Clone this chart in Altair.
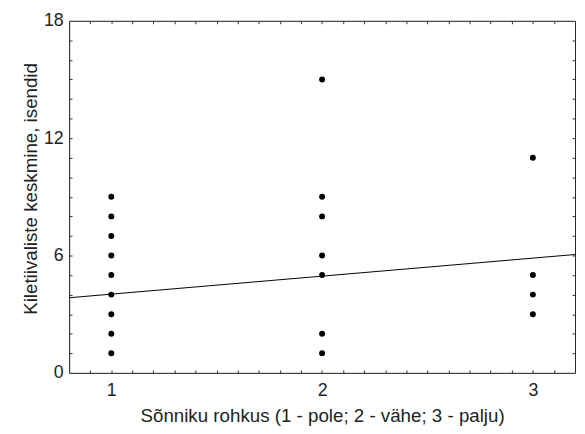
import altair as alt
import pandas as pd

# Data
manure = [1, 1, 1, 1, 1, 1, 1, 1, 1,
          2, 2, 2, 2, 2, 2, 2,
          3, 3, 3, 3]
abundance = [1, 2, 3, 4, 5, 6, 7, 8, 9,
             1, 2, 5, 6, 8, 9, 15,
             3, 4, 5, 11]

fit_x = [0.8, 3.2]
fit_y = [3.84, 6.05]

x_major = [1, 2, 3]
y_major = [0, 6, 12, 18]
x_minor = [0.9, 1.0, 1.1, 1.2, 1.3, 1.4, 1.5, 1.6, 1.7, 1.8, 1.9, 2.0,
           2.1, 2.2, 2.3, 2.4, 2.5, 2.6, 2.7, 2.8, 2.9, 3.0, 3.1]
y_minor = [1, 2, 3, 4, 5, 6, 7, 8, 9, 10, 11, 12, 13, 14, 15, 16, 17]

pts = pd.DataFrame({"x": manure, "y": abundance})
fit = pd.DataFrame({"x": fit_x, "y": fit_y})

FONT = "Liberation Sans"
TXT = "#222222"
FRAME = "#222222"
xs = alt.Scale(domain=[0.8, 3.2], nice=False, zero=False)
ys = alt.Scale(domain=[0, 18], nice=False)

# Layer with labels, titles and the bottom/left frame
points = alt.Chart(pts).mark_circle(size=36, color="black", opacity=1).encode(
    x=alt.X("x:Q", scale=xs,
            axis=alt.Axis(values=x_major, format="d", ticks=False, domain=True,
                          domainColor=FRAME, domainWidth=1, grid=False,
                          labelPadding=9, labelFontSize=18, labelFont=FONT, labelColor=TXT,
                          title="Sõnniku rohkus (1 - pole; 2 - vähe; 3 - palju)",
                          titleFont=FONT, titleFontSize=19, titleFontWeight="normal",
                          titleColor=TXT, titlePadding=7, orient="bottom")),
    y=alt.Y("y:Q", scale=ys,
            axis=alt.Axis(values=y_major, format="d", ticks=False, domain=True,
                          domainColor=FRAME, domainWidth=1, grid=False,
                          labelPadding=6, labelFontSize=18, labelFont=FONT, labelColor=TXT,
                          title="Kiletiivaliste keskmine, isendid",
                          titleFont=FONT, titleFontSize=19, titleFontWeight="normal",
                          titleColor=TXT, titlePadding=3, titleY=170, orient="left")),
)

def tick_axis(vals, orient):
    return alt.Axis(values=vals, orient=orient, labels=False, domain=False, grid=False,
                    ticks=True, tickSize=3, offset=-3, tickColor="#333333", tickWidth=1,
                    title=None)

def frame_axis(orient):
    return alt.Axis(orient=orient, labels=False, ticks=False, grid=False, domain=True,
                    domainColor=FRAME, domainWidth=1, title=None)

line = alt.Chart(fit).mark_line(color="black", strokeWidth=1).encode(
    x=alt.X("x:Q", scale=xs, axis=tick_axis(x_minor, "top")),
    y=alt.Y("y:Q", scale=ys, axis=tick_axis(y_minor, "right")),
)

ghost = alt.Chart(fit).mark_line(strokeOpacity=0).encode(
    x=alt.X("x:Q", scale=xs, axis=tick_axis(x_minor, "bottom")),
    y=alt.Y("y:Q", scale=ys, axis=tick_axis(y_minor, "left")),
)

frame = alt.Chart(fit).mark_line(strokeOpacity=0).encode(
    x=alt.X("x:Q", scale=xs, axis=frame_axis("top")),
    y=alt.Y("y:Q", scale=ys, axis=frame_axis("right")),
)

chart = alt.layer(ghost, frame, line, points).resolve_axis(
    x="independent", y="independent"
).properties(
    width=513, height=357,
    autosize=alt.AutoSizeParams(type="none"),
    padding={"left": 62, "top": 10, "right": 2, "bottom": 58},
).configure_view(
    stroke=FRAME, strokeWidth=1
).configure(background="white")

chart.save("out.html", embed_options={"renderer": "svg", "actions": False})
